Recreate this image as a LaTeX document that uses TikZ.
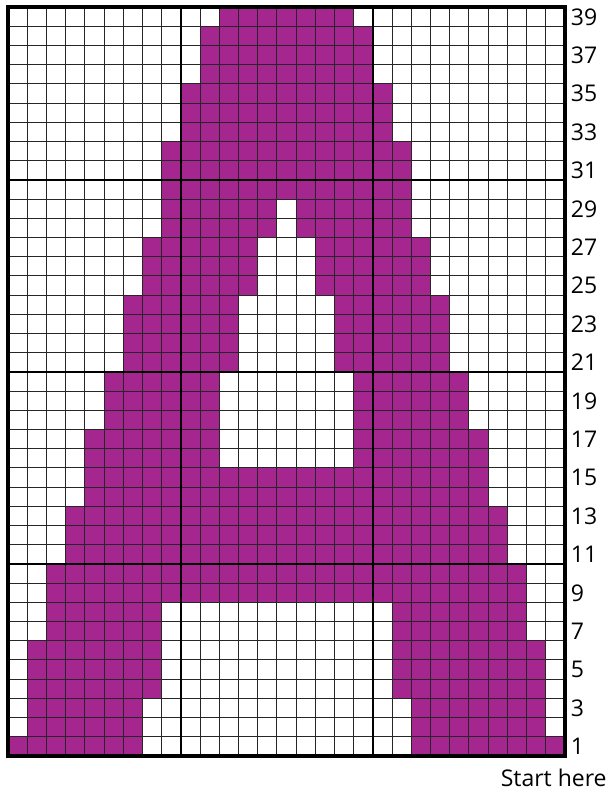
\documentclass[tikz,border=0pt]{standalone}
\usepackage{fontspec}
\setmainfont{Open Sans}
\definecolor{yarnpurple}{RGB}{165,38,142}

\begin{document}
\begin{tikzpicture}[x=9.6pt, y=9.6pt, every node/.style={inner sep=0pt, font=\fontsize{11.5}{13}\selectfont}]
	\useasboundingbox (-0.4167,-1.875) rectangle (31.198,39.375);
	\foreach \a/\b/\c/\d in {11/18/38/39, 10/19/35/38, 9/20/32/35, 8/21/29/32,
		8/14/27/29, 15/21/27/29, 7/13/24/27, 16/22/24/27, 6/12/20/24, 17/23/20/24,
		5/11/17/20, 18/24/17/20, 4/11/15/17, 18/25/15/17, 4/25/13/15, 3/26/10/13,
		2/27/8/10, 2/8/6/8, 20/27/6/8, 1/8/3/6, 20/28/3/6, 1/7/1/3, 21/28/1/3,
		0/7/0/1, 21/29/0/1}
		\fill[yarnpurple] (\a,\c) rectangle (\b,\d);
	\draw[black!85, line width=0.5pt, step=9.6pt] (0,0) grid (29,39);
	\foreach \x in {9,19}
		\draw[black, line width=1.1pt] (\x,0) -- (\x,39);
	\foreach \y in {10,20,30}
		\draw[black, line width=1.1pt] (0,\y) -- (29,\y);
	\draw[black, line width=1.8pt] (0,0) rectangle (29,39);
	\foreach \n in {1,3,...,39}
		\node[anchor=west] (row\n) at (29.3,\n-0.5) {\n};
	\node[anchor=base east] (start) at (31.2,-1.6) {Start here};
\end{tikzpicture}
\end{document}
